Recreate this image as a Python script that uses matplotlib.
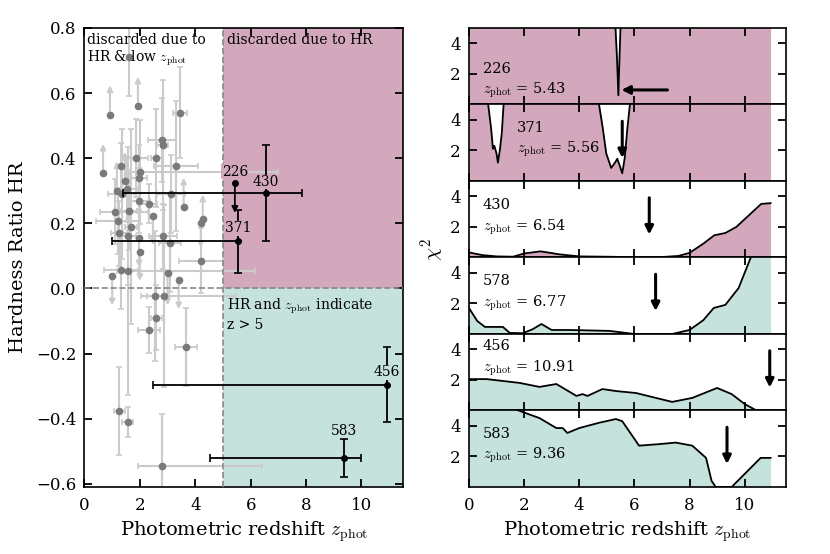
import matplotlib
matplotlib.use("Agg")

import matplotlib.pyplot as plt
import numpy as np


PINK = "#d4a8bc"
TEAL = "#c5e2dd"
GRAY_PT = "#7a7a7a"
GRAY_ERR = "#cbcbcb"

# --- left panel: hardness ratio vs photometric redshift ---------------------
# faint sources (x, y, x error low/high, y error, limit: 1 = lower, -1 = upper)
gray_z = [0.92, 1.93, 1.62, 3.44, 2.80, 2.82, 2.60, 1.85, 1.32, 3.30,
          0.67, 2.00, 1.97, 1.46, 1.17, 1.53, 1.35, 3.12, 1.97, 2.32,
          3.58, 1.10, 1.60, 2.47, 4.27, 4.20, 1.21, 1.68, 1.24, 1.57,
          1.97, 2.83, 3.08, 2.00, 4.20, 1.32, 1.57, 1.00, 3.00, 3.40,
          2.54, 2.87, 2.60, 2.33, 3.68, 1.25, 1.56, 2.80]
gray_hr = [0.534, 0.560, 0.710, 0.540, 0.456, 0.440, 0.400, 0.400, 0.376, 0.376,
           0.354, 0.357, 0.340, 0.330, 0.300, 0.305, 0.290, 0.290, 0.270, 0.260,
           0.250, 0.235, 0.238, 0.223, 0.213, 0.200, 0.207, 0.190, 0.170, 0.160,
           0.155, 0.160, 0.140, 0.113, 0.085, 0.057, 0.054, 0.038, 0.048, 0.026,
           -0.023, -0.023, -0.090, -0.127, -0.180, -0.376, -0.410, -0.545]
gray_zlo = [0.0, 0.0, 0.0, 0.25, 0.5, 0.2, 0.2, 0.45, 0.2, 0.8,
            0.0, 0.4, 0.3, 0.0, 0.0, 0.4, 0.5, 0.5, 0.4, 0.3,
            0.0, 0.55, 0.3, 0.0, 0.0, 0.0, 0.8, 0.2, 0.3, 0.3,
            0.0, 0.5, 0.4, 0.0, 0.8, 0.6, 0.4, 0.0, 0.0, 0.0,
            0.5, 0.6, 0.2, 0.4, 0.4, 0.2, 0.2, 0.87]
gray_zhi = [0.0, 0.0, 0.0, 0.25, 0.5, 0.2, 0.2, 0.45, 0.2, 0.8,
            0.0, 5.0, 0.3, 0.0, 0.0, 0.4, 0.5, 0.5, 0.4, 0.3,
            0.0, 1.2, 0.3, 0.0, 0.0, 0.0, 0.8, 0.2, 0.3, 0.3,
            0.0, 0.5, 0.4, 0.0, 0.8, 0.6, 4.6, 0.0, 0.0, 0.0,
            0.5, 2.6, 0.2, 0.4, 0.4, 0.2, 0.2, 3.6]
gray_hrerr = [0.09, 0.09, 0.12, 0.14, 0.13, 0.20, 0.15, 0.12, 0.07, 0.20,
              0.09, 0.16, 0.10, 0.09, 0.09, 0.10, 0.20, 0.12, 0.10, 0.06,
              0.09, 0.10, 0.12, 0.09, 0.075, 0.075, 0.10, 0.30, 0.10, 0.15,
              0.09, 0.10, 0.15, 0.09, 0.10, 0.12, 0.38, 0.09, 0.10, 0.09,
              0.20, 0.28, 0.10, 0.07, 0.12, 0.135, 0.045, 0.16]
gray_lim = [1, 1, 0, 0, 0, 0, 0, 0, 0, 0,
            1, 0, 0, 1, 1, 0, 0, 0, 0, 0,
            1, 0, 0, -1, 1, -1, 0, 0, 0, 0,
            -1, 0, 0, -1, 0, 0, 0, -1, -1, -1,
            0, 0, 0, 0, 0, 0, 0, 0]

# highlighted sources
hi_id = ["430", "371", "456", "583"]
hi_z = [6.54, 5.56, 10.91, 9.36]
hi_hr = [0.293, 0.145, -0.296, -0.520]
hi_zlo = [5.15, 4.56, 8.44, 4.84]
hi_zhi = [1.33, 0.0, 0.0, 0.64]
hi_hrerr = [0.148, 0.097, 0.115, 0.058]
hi_label_pos = [(6.54, 0.327), (5.55, 0.185), (10.92, -0.258), (9.36, -0.437)]
hi_label_bg = [PINK, PINK, TEAL, TEAL]

# source 226 only has an upper limit on HR
s226_z = 5.43
s226_hr = 0.324
s226_hrerr = 0.092

# --- right panels: chi^2 curves ---------------------------------------------
panel_ids = ["226", "371", "430", "578", "456", "583"]
panel_zphot = [5.43, 5.56, 6.54, 6.77, 10.91, 9.36]
panel_colors = [PINK, PINK, PINK, TEAL, TEAL, TEAL]

z226 = [0.0, 5.0, 5.31, 5.37, 5.42, 5.46, 5.50, 6.0, 10.94]
c226 = [9.0, 9.0, 5.2, 3.0, 0.6, 3.0, 5.2, 9.0, 9.0]
z371 = [0.0, 0.5, 0.69, 0.80, 0.87, 0.92, 1.00, 1.05, 1.12, 1.19, 1.26, 1.5,
        4.4, 4.70, 4.85, 4.98, 5.16, 5.30, 5.38, 5.47, 5.56, 5.65, 5.75, 5.85,
        6.2, 10.94]
c371 = [9.0, 9.0, 5.1, 3.5, 2.1, 2.3, 1.8, 1.2, 2.0, 3.1, 5.1, 9.0,
        9.0, 5.2, 3.5, 1.8, 0.85, 1.2, 1.45, 1.0, 0.5, 1.5, 3.5, 5.2,
        9.0, 9.0]
z430 = [0.0, 0.5, 1.0, 1.6, 2.0, 2.6, 3.3, 4.0, 5.0, 6.0, 7.0, 7.6, 8.0,
        8.5, 8.9, 9.3, 9.7, 10.0, 10.3, 10.6, 10.94]
c430 = [0.33, 0.15, 0.07, 0.05, 0.26, 0.4, 0.2, 0.07, 0.05, 0.02, 0.03,
        0.1, 0.3, 0.9, 1.45, 1.6, 2.0, 2.5, 3.0, 3.5, 3.55]
z578 = [0.0, 0.3, 0.58, 1.23, 1.48, 1.95, 2.3, 2.63, 3.0, 3.65, 5.1, 6.0,
        7.37, 8.0, 8.5, 8.88, 9.3, 9.78, 10.2, 10.5, 10.94]
c578 = [1.7, 0.85, 0.46, 0.46, 0.07, 0.05, 0.3, 0.65, 0.26, 0.26, 0.2, 0.0,
        0.0, 0.26, 0.9, 1.7, 1.9, 3.0, 4.9, 6.5, 8.0]
z456 = [0.0, 0.64, 1.84, 2.56, 3.17, 3.9, 4.12, 4.3, 4.84, 5.33, 6.06, 7.37,
        8.1, 9.0, 9.53, 10.0, 10.4, 10.94]
c456 = [2.05, 2.05, 1.8, 1.54, 1.73, 0.95, 1.07, 0.95, 1.4, 1.27, 1.14, 0.56,
        0.82, 1.47, 1.07, 0.42, 0.03, 0.0]
z583 = [0.0, 1.5, 1.95, 2.56, 3.17, 3.4, 3.57, 4.0, 4.73, 5.33, 5.56, 6.17,
        6.9, 7.5, 8.1, 8.6, 8.8, 8.95, 9.53, 10.0, 10.58, 10.94]
c583 = [5.5, 5.2, 4.9, 4.5, 3.85, 3.85, 3.53, 3.85, 4.2, 4.44, 4.3, 2.7,
        2.8, 2.9, 2.7, 1.9, 0.4, 0.0, 0.0, 0.85, 1.9, 1.9]
panel_curves = [(z226, c226), (z371, c371), (z430, c430),
                (z578, c578), (z456, c456), (z583, c583)]
# where the two text lines sit (x, y of id line, y of z_phot line)
panel_text = [(0.5, 2.3, 0.95), (1.75, 3.45, 2.05), (0.5, 3.45, 2.0),
              (0.5, 3.45, 2.0), (0.5, 4.2, 2.75), (0.5, 3.45, 2.05)]

Z_CUT = 5.0
HR_CUT = 0.0
ZMAX = 11.5
HR_MIN, HR_MAX = -0.61, 0.8


plt.rcParams.update({
    "font.family": "DejaVu Serif",
    "mathtext.fontset": "cm",
    "font.size": 10,
    "axes.linewidth": 1.2,
    "xtick.direction": "in",
    "ytick.direction": "in",
    "xtick.top": True,
    "ytick.right": True,
    "xtick.major.size": 6,
    "ytick.major.size": 6,
    "xtick.major.width": 1.3,
    "ytick.major.width": 1.3,
    "xtick.labelsize": 12,
    "ytick.labelsize": 12,
    "xtick.major.pad": 7,
    "ytick.major.pad": 6,
})

fig = plt.figure(figsize=(8.3, 5.54), dpi=100)

# left panel
ax = fig.add_axes([0.1018, 0.121, 0.3837, 0.8285])
ax.fill_between([Z_CUT, ZMAX], HR_CUT, HR_MAX, color=PINK, lw=0, zorder=0)
ax.fill_between([Z_CUT, ZMAX], HR_MIN, HR_CUT, color=TEAL, lw=0, zorder=0)

lim = np.array(gray_lim)
hr = np.array(gray_hr)
hrerr = np.array(gray_hrerr)
ax.errorbar(gray_z, gray_hr, xerr=[gray_zlo, gray_zhi],
            yerr=np.where(lim == 0, hrerr, 0.0), fmt="o", ms=4.5,
            mfc=GRAY_PT, mec=GRAY_PT, ecolor=GRAY_ERR, elinewidth=1.5,
            capsize=2, capthick=1.2, zorder=2)
# HR limits drawn as arrows
for zi, yi, ei, li in zip(gray_z, hr, hrerr, lim):
    if li == 0:
        continue
    ax.annotate("", xy=(zi, yi + li * ei), xytext=(zi, yi),
                arrowprops=dict(arrowstyle="-|>", color=GRAY_ERR, lw=1.5,
                                mutation_scale=8, shrinkA=0, shrinkB=0),
                zorder=1)

ax.axvline(Z_CUT, color="#888888", ls="--", lw=1.2, zorder=3)
ax.axhline(HR_CUT, color="#888888", ls="--", lw=1.2, zorder=3)

ax.errorbar(hi_z, hi_hr, xerr=[hi_zlo, hi_zhi], yerr=hi_hrerr, fmt="o",
            ms=4, color="black", elinewidth=1.3, capsize=3, capthick=1.2,
            zorder=4)
for name, (tx, ty), bg in zip(hi_id, hi_label_pos, hi_label_bg):
    ax.text(tx, ty, name, ha="center", va="center", fontsize=10, zorder=5,
            bbox=dict(facecolor=bg, edgecolor="none", pad=0.3))
ax.plot([s226_z], [s226_hr], "o", ms=4, color="black", zorder=4)
ax.annotate("", xy=(s226_z, s226_hr - s226_hrerr), xytext=(s226_z, s226_hr),
            arrowprops=dict(arrowstyle="-|>", color="black", lw=1.3,
                            mutation_scale=9, shrinkA=0, shrinkB=0), zorder=4)
ax.text(s226_z, s226_hr + 0.034, "226", ha="center", va="center", fontsize=10,
        zorder=5, bbox=dict(facecolor=PINK, edgecolor="none", pad=0.3))

ax.text(0.1, 0.785, "discarded due to\nHR & low $z_{\\rm phot}$", ha="left",
        va="top", fontsize=10, linespacing=1.15, zorder=5)
ax.text(5.15, 0.785, "discarded due to HR", ha="left", va="top", fontsize=10,
        zorder=5)
ax.text(5.15, -0.025, "HR and $z_{\\rm phot}$ indicate\nz > 5", ha="left",
        va="top", fontsize=10, linespacing=1.2, zorder=5)

ax.set_xlim(0, ZMAX)
ax.set_ylim(HR_MIN, HR_MAX)
ax.set_xticks([0, 2, 4, 6, 8, 10])
ax.set_yticks(np.arange(-0.6, 0.81, 0.2))
ax.set_yticklabels([f"{v:.1f}".replace("-", "\u2212") for v in np.arange(-0.6, 0.81, 0.2)])
ax.set_xlabel("Photometric redshift $z_{\\rm phot}$", fontsize=14, labelpad=4)
ax.set_ylabel("Hardness Ratio HR", fontsize=14, labelpad=6)

# right panels
n = len(panel_ids)
height = 0.8285 / n
for i in range(n):
    rax = fig.add_axes([0.565, 0.9495 - (i + 1) * height, 0.382, height])
    z, chi2 = panel_curves[i]
    rax.fill_between(z, 0, chi2, color=panel_colors[i], lw=0, zorder=0)
    rax.plot(z, chi2, color="black", lw=1.3, zorder=2)
    zp = panel_zphot[i]
    if i == 0:
        rax.annotate("", xy=(zp + 0.1, 0.95), xytext=(7.2, 0.95),
                     arrowprops=dict(arrowstyle="-|>", color="black", lw=2.2,
                                     mutation_scale=12, shrinkA=0, shrinkB=0))
    else:
        rax.annotate("", xy=(zp, 1.5), xytext=(zp, 3.9),
                     arrowprops=dict(arrowstyle="-|>", color="black", lw=2.2,
                                     mutation_scale=12, shrinkA=0, shrinkB=0))
    tx, ty1, ty2 = panel_text[i]
    rax.text(tx, ty1, panel_ids[i], ha="left", va="center", fontsize=10.5)
    rax.text(tx, ty2, f"$z_{{\\rm phot}}$ = {zp:.2f}", ha="left", va="center",
             fontsize=10.5)
    rax.set_xlim(0, ZMAX)
    rax.set_ylim(0, 5.0)
    rax.set_yticks([2, 4])
    rax.set_xticks([0, 2, 4, 6, 8, 10])
    if i < n - 1:
        rax.tick_params(labelbottom=False)
    else:
        rax.set_xlabel("Photometric redshift $z_{\\rm phot}$", fontsize=14,
                       labelpad=4)

fig.text(0.522, 0.55, "$\\chi^2$", rotation=90, ha="center", va="center",
         fontsize=15)

fig.savefig("out.png", dpi=100)
plt.close(fig)
